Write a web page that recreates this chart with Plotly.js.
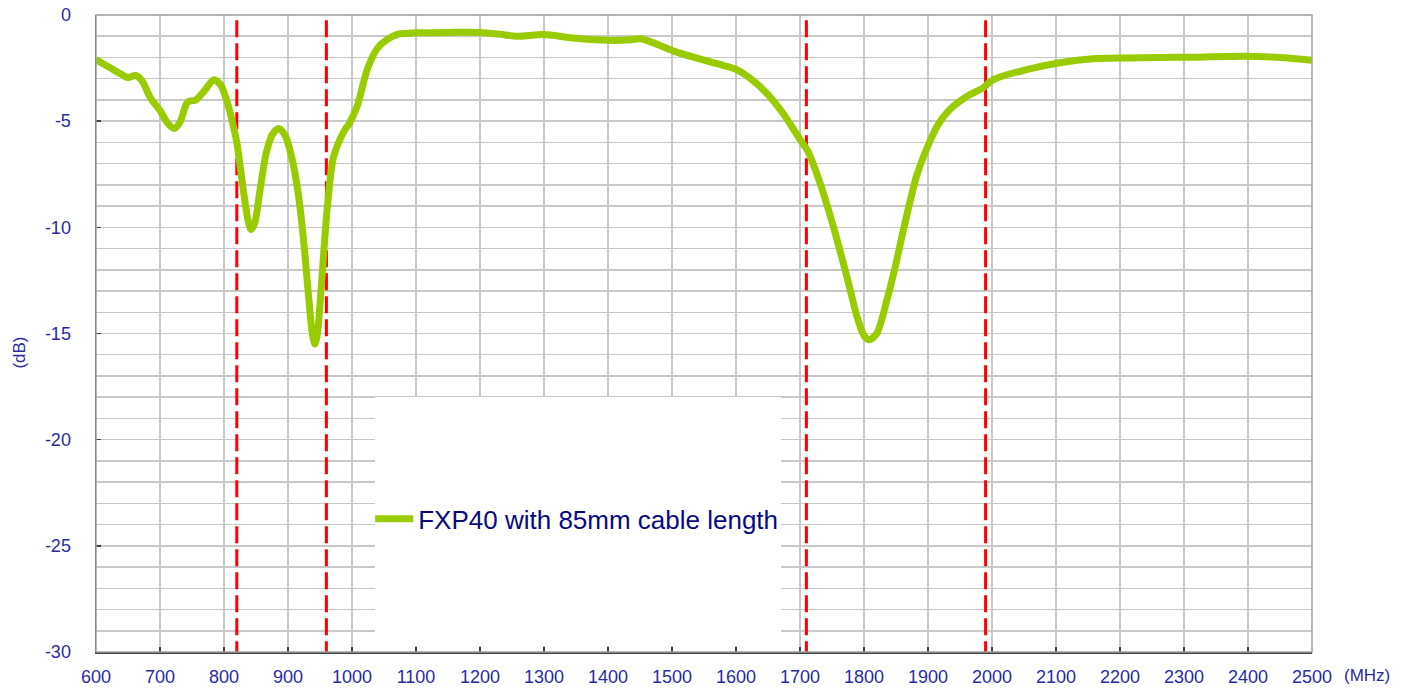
<!DOCTYPE html>
<html>
<head>
<meta charset="utf-8">
<script src="https://cdn.plot.ly/plotly-3.0.1.min.js"></script>
<style>html,body{margin:0;padding:0;background:#fff;}#chart{width:1410px;height:689px;}</style>
</head>
<body>
<div id="chart"></div>
<script>
// Frequency (MHz) and return loss (dB)
const freqMHz = [600, 620, 640, 650, 662, 672, 685, 700, 712, 722, 732, 743, 756, 770, 784, 795, 805, 812, 820, 830, 837, 842, 848, 856, 866, 876, 886, 896, 905, 915, 924, 932, 938, 942, 946, 952, 961, 971, 987, 996, 1008, 1024, 1039, 1055, 1070, 1085, 1102, 1150, 1200, 1230, 1258, 1300, 1341, 1398, 1430, 1450, 1470, 1503, 1535, 1565, 1575, 1601, 1625, 1650, 1675, 1700, 1712, 1730, 1752, 1773, 1790, 1800, 1808, 1820, 1836, 1850, 1861, 1882, 1898, 1915, 1934, 1960, 1986, 2002, 2054, 2106, 2158, 2210, 2260, 2314, 2392, 2450, 2500];
const returnLossDB = [-2.1, -2.45, -2.8, -2.95, -2.85, -3.1, -3.9, -4.5, -5.1, -5.35, -5.0, -4.1, -4.0, -3.55, -3.05, -3.3, -4.1, -4.9, -6.0, -8.2, -9.6, -10.1, -9.8, -8.3, -6.5, -5.6, -5.35, -5.7, -6.6, -8.2, -10.5, -13.2, -15.0, -15.5, -15.0, -12.8, -9.2, -6.7, -5.5, -5.1, -4.3, -2.55, -1.6, -1.15, -0.92, -0.87, -0.84, -0.82, -0.82, -0.9, -1.0, -0.92, -1.07, -1.19, -1.18, -1.12, -1.3, -1.7, -2.0, -2.25, -2.33, -2.57, -3.05, -3.75, -4.7, -5.86, -6.4, -7.8, -9.95, -12.3, -14.3, -15.1, -15.3, -15.0, -13.4, -11.7, -10.2, -7.6, -6.3, -5.2, -4.45, -3.85, -3.43, -3.04, -2.57, -2.25, -2.06, -2.02, -2.0, -1.99, -1.94, -2.0, -2.13];
const seriesName = 'FXP40 with 85mm cable length';
// Band edge markers (MHz)
const bandEdges = [820, 960, 1710, 1990];
const bandLineTop = -0.25;
const bandLineBottom = -30;
// Tick labels
const xTickVals = [600, 700, 800, 900, 1000, 1100, 1200, 1300, 1400, 1500, 1600, 1700, 1800, 1900, 2000, 2100, 2200, 2300, 2400, 2500];
const xTickText = ['600', '700', '800', '900', '1000', '1100', '1200', '1300', '1400', '1500', '1600', '1700', '1800', '1900', '2000', '2100', '2200', '2300', '2400', '2500'];
const yTickVals = [0, -5, -10, -15, -20, -25, -30];
const yTickText = ['0', '-5', '-10', '-15', '-20', '-25', '-30'];

const traces = [];
bandEdges.forEach(function (f) {
  traces.push({
    x: [f, f], y: [bandLineTop, bandLineBottom],
    type: 'scatter', mode: 'lines', showlegend: false, hoverinfo: 'skip',
    line: {color: '#ff0000', width: 3, dash: '17px,6px'}
  });
});
traces.push({
  x: freqMHz, y: returnLossDB, name: seriesName,
  type: 'scatter', mode: 'lines',
  line: {color: '#99cc00', width: 7, shape: 'spline', smoothing: 0.8}
});

const tickColor = '#2b2ba0';
const layout = {
  width: 1410, height: 689,
  margin: {l: 96, r: 98, t: 15, b: 37},
  paper_bgcolor: '#ffffff', plot_bgcolor: '#ffffff',
  font: {family: 'Liberation Sans, Arial, sans-serif', size: 17, color: tickColor},
  showlegend: true,
  legend: {
    x: 0.2255, y: 0.209, xanchor: 'left', yanchor: 'middle',
    bgcolor: 'rgba(0,0,0,0)', borderwidth: 0,
    font: {family: 'Liberation Sans, Arial, sans-serif', size: 26, color: '#0a0a80'},
    itemwidth: 38
  },
  xaxis: {
    range: [600, 2500], tickmode: 'array', tickvals: xTickVals, ticktext: xTickText,
    showgrid: true, gridcolor: '#c8c8c8', gridwidth: 1.5,
    zeroline: false, showline: true, linecolor: '#404040', linewidth: 1.5,
    ticks: 'inside', ticklen: 5, tickcolor: '#404040', tickwidth: 1.5,
    ticklabelstandoff: 8,
    tickfont: {size: 18, color: tickColor}
  },
  yaxis: {
    range: [-30, 0], tickmode: 'array', tickvals: yTickVals, ticktext: yTickText,
    showgrid: true, gridcolor: '#c8c8c8', gridwidth: 1.5,
    minor: {dtick: 1, tick0: 0, showgrid: true, gridcolor: '#c8c8c8', gridwidth: 1.5, ticks: ''},
    zeroline: false, showline: true, linecolor: '#404040', linewidth: 1.5,
    ticks: 'inside', ticklen: 5, tickcolor: '#404040', tickwidth: 1.5,
    ticklabelstandoff: 20,
    tickfont: {size: 18, color: tickColor}
  },
  shapes: [
    {type: 'rect', xref: 'paper', yref: 'paper', x0: 0.2294, x1: 0.5633, y0: 0.0095, y1: 0.4003,
     fillcolor: '#ffffff', line: {width: 0}, layer: 'above'},
    {type: 'rect', xref: 'paper', yref: 'paper', x0: 0, x1: 1, y0: 0, y1: 1,
     fillcolor: 'rgba(0,0,0,0)', line: {color: '#a0a0a0', width: 1.5}, layer: 'above'}
  ],
  annotations: [
    {text: '(MHz)', xref: 'paper', yref: 'paper', x: 1.0, y: 0, xanchor: 'left', yanchor: 'top',
     xshift: 30, yshift: -12, showarrow: false, font: {size: 17, color: tickColor}},
    {text: '(dB)', xref: 'paper', yref: 'paper', x: 0, y: 0.47, xanchor: 'center', yanchor: 'middle',
     xshift: -76, textangle: -90, showarrow: false, font: {size: 17, color: tickColor}}
  ]
};

Plotly.newPlot('chart', traces, layout, {displayModeBar: false, staticPlot: true});
</script>
</body>
</html>
